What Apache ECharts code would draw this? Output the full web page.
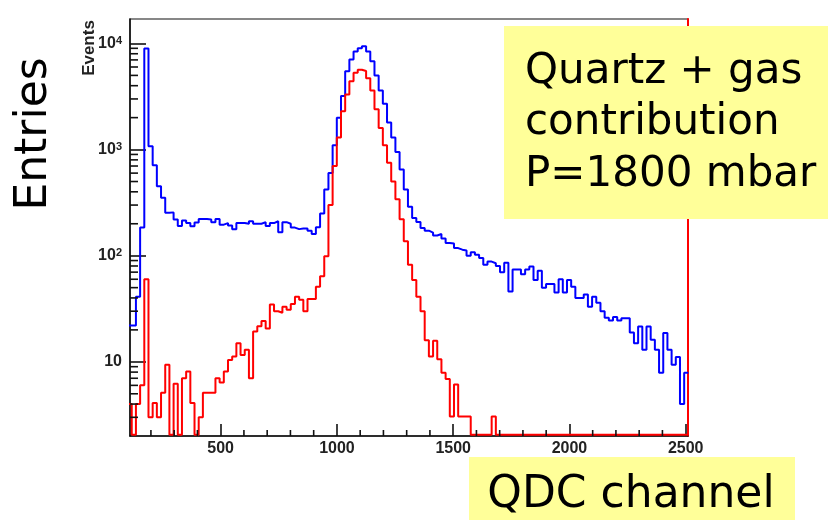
<!DOCTYPE html>
<html><head><meta charset="utf-8">
<script src="https://cdn.jsdelivr.net/npm/echarts@6/dist/echarts.min.js"></script>
<style>html,body{margin:0;padding:0;background:#fff}#c{width:828px;height:520px}</style>
</head><body><div id="c"></div>
<script>
// Histogram binning (QDC channel)
const binStart = 99.5;
const binWidth = 18;

// Blue: total (quartz + gas) entries per bin
const blueCounts = [
  22, 22, 41, 184, 8970, 1075, 710, 451, 352, 254,
  256, 219, 190, 215, 203, 189, 205, 222, 222, 219,
  207, 222, 196, 203, 193, 178, 203, 203, 200, 211,
  200, 200, 207, 190, 203, 211, 166, 207, 200, 184,
  178, 180, 180, 172, 160, 185, 250, 420, 600, 1100,
  2000, 3200, 5480, 7060, 8400, 9000, 9430, 8400, 6800, 5000,
  3600, 2700, 1800, 1300, 950, 650, 420, 290, 226, 208,
  182, 172, 165, 155, 160, 145, 132, 130, 118, 114,
  112, 100, 108, 102, 95, 82, 88, 85, 80, 70,
  86, 46, 74, 74, 67, 74, 79, 59, 72, 50,
  54, 54, 45, 60, 45, 59, 51, 40, 40, 43,
  33, 41, 36, 30, 26, 24.5, 26.4, 24.5, 25.8, 25.8,
  18.9, 15, 21.5, 13, 21.5, 16.1, 13, 7.9, 18.7, 13,
  9.4, 11.1, 4.0, 7.9
];

// Red: quartz-only contribution per bin
const redCounts = [
  4, 0, 4, 6, 60, 3, 4.1, 3, 5.1, 9.4,
  0, 6.2, 0, 7, 8.1, 4.1, 0, 3, 5.1, 5.1,
  5.1, 7, 6.4, 8.1, 10.4, 11.2, 15, 11.6, 13, 7,
  19.3, 21.6, 24.2, 20.6, 34.6, 30, 29, 33, 31, 35,
  41, 38.5, 30, 39, 39, 51, 64, 99, 300, 700,
  1300, 2300, 3300, 4400, 5300, 5650, 5500, 4700, 3600, 2400,
  1600, 1100, 750, 500, 340, 220, 137, 82, 59, 41,
  30, 16, 11.2, 15.8, 10.6, 7.9, 6.9, 3.05, 6.1, 3.05,
  3.05, 3.05, 0, 0, 0, 0, 0, 3.05, 0, 0,
  0, 0, 0, 0, 0, 0, 0, 0, 0, 0,
  0, 0, 0, 0, 0, 0, 0, 0, 0, 0,
  0, 0, 0, 0, 0, 0, 0, 0, 0, 0,
  0, 0, 0, 0, 0, 0, 0, 0, 0, 0,
  0, 0, 0, 0
];

// Minor tick values
const xMinorTicks = [200, 300, 400, 600, 700, 800, 900, 1100, 1200, 1300, 1400, 1600, 1700, 1800, 1900, 2100, 2200, 2300, 2400];
const yMinorTicks = [3, 4, 5, 6, 7, 8, 9, 20, 30, 40, 50, 60, 70, 80, 90, 200, 300, 400, 500, 600, 700, 800, 900, 2000, 3000, 4000, 5000, 6000, 7000, 8000, 9000];

const xMin = 110, xMax = 2510, yMin = 2, yMax = 17000;

function stepData(counts) {
  const floor = yMin * 1.025;
  const pts = counts.map((c, i) => [binStart + i * binWidth, c > floor ? c : floor]);
  const last = pts[pts.length - 1][1];
  pts.push([binStart + counts.length * binWidth, last]);
  return pts;
}

function minorTickSeries(values, horizontalAxis, len) {
  return {
    type: 'custom', xAxisIndex: 0, yAxisIndex: 0, silent: true, clip: false, z: 6,
    data: values.map(v => horizontalAxis ? [v, yMin] : [xMin, v]),
    renderItem: function (params, api) {
      const c = api.coord([api.value(0), api.value(1)]);
      const shape = horizontalAxis
        ? {x1: c[0], y1: c[1], x2: c[0], y2: c[1] - len}
        : {x1: c[0], y1: c[1], x2: c[0] + len, y2: c[1]};
      return {type: 'line', shape: shape, style: {stroke: '#111', lineWidth: 1.6}};
    }
  };
}

const chart = echarts.init(document.getElementById('c'), null, {renderer: 'canvas'});
const labelFont = 'Liberation Sans, Arial, sans-serif';

chart.setOption({
  animation: false,
  grid: {left: 130, top: 19, width: 558, height: 417, show: true, borderColor: '#111', borderWidth: 1.2},
  xAxis: [{
    type: 'value', min: xMin, max: xMax, position: 'bottom',
    axisLine: {show: true, lineStyle: {color: '#111', width: 1.5}},
    axisTick: {show: true, inside: true, length: 12, lineStyle: {color: '#111', width: 1.6}},
    axisLabel: {show: true, showMinLabel: false, showMaxLabel: false, formatter: v => String(v),
      fontFamily: labelFont, fontWeight: 'bold', fontSize: 16, color: '#222', margin: 5},
    splitLine: {show: false}
  }],
  yAxis: [
    {
      type: 'log', min: yMin, max: yMax, position: 'left',
      axisLine: {show: true, lineStyle: {color: '#111', width: 1.5}},
      axisTick: {show: true, inside: true, length: 16, lineStyle: {color: '#111', width: 1.6}},
      axisLabel: {
        show: true, showMinLabel: false, showMaxLabel: false, margin: 8,
        formatter: function (v) {
          const e = Math.round(Math.log10(v));
          return e === 1 ? '{b|10}' : '{b|10}{s|' + e + '}';
        },
        rich: {
          b: {fontFamily: labelFont, fontWeight: 'bold', fontSize: 16, color: '#222', lineHeight: 16, padding: [7, 0, 0, 0], verticalAlign: 'bottom'},
          s: {fontFamily: labelFont, fontWeight: 'bold', fontSize: 11, color: '#222', lineHeight: 11, verticalAlign: 'top'}
        }
      },
      splitLine: {show: false}
    },
    {
      type: 'log', min: yMin, max: yMax, position: 'right',
      axisLine: {show: true, lineStyle: {color: '#ff0000', width: 2}},
      axisTick: {show: false}, axisLabel: {show: false}, splitLine: {show: false}
    }
  ],
  series: [
    {
      name: 'Quartz + gas', type: 'line', step: 'end', data: stepData(blueCounts),
      xAxisIndex: 0, yAxisIndex: 0, symbol: 'none', clip: true,
      lineStyle: {color: '#0000ff', width: 2}, z: 3
    },
    {
      name: 'Quartz', type: 'line', step: 'end', data: stepData(redCounts),
      xAxisIndex: 0, yAxisIndex: 0, symbol: 'none', clip: true,
      lineStyle: {color: '#ff0000', width: 2}, z: 4
    },
    minorTickSeries(xMinorTicks, true, 6),
    minorTickSeries(yMinorTicks, false, 8)
  ],
  graphic: [
    {type: 'text', x: 89, y: 48, rotation: Math.PI / 2, z: 50,
     style: {text: 'Events', font: 'bold 17px Liberation Sans, Arial, sans-serif', fill: '#222', align: 'center', verticalAlign: 'middle'}},
    {type: 'text', x: 35, y: 134, rotation: Math.PI / 2, z: 50,
     style: {text: 'Entries', font: '44px DejaVu Sans, sans-serif', fill: '#000', align: 'center', verticalAlign: 'middle'}},
    {type: 'rect', z: 100, shape: {x: 504, y: 26, width: 324, height: 193}, style: {fill: '#ffff99'}},
    {type: 'text', z: 101, x: 525, y: 72, style: {text: 'Quartz + gas', font: '42px DejaVu Sans, sans-serif', fill: '#000', align: 'left', verticalAlign: 'middle'}},
    {type: 'text', z: 101, x: 525, y: 123, style: {text: 'contribution', font: '42px DejaVu Sans, sans-serif', fill: '#000', align: 'left', verticalAlign: 'middle'}},
    {type: 'text', z: 101, x: 525, y: 175, style: {text: 'P=1800 mbar', font: '42px DejaVu Sans, sans-serif', fill: '#000', align: 'left', verticalAlign: 'middle'}},
    {type: 'rect', z: 100, shape: {x: 469, y: 457, width: 326, height: 63}, style: {fill: '#ffff99'}},
    {type: 'text', z: 101, x: 631, y: 496, style: {text: 'QDC channel', font: '44px DejaVu Sans, sans-serif', fill: '#000', align: 'center', verticalAlign: 'middle'}}
  ]
});
</script>
</body></html>
